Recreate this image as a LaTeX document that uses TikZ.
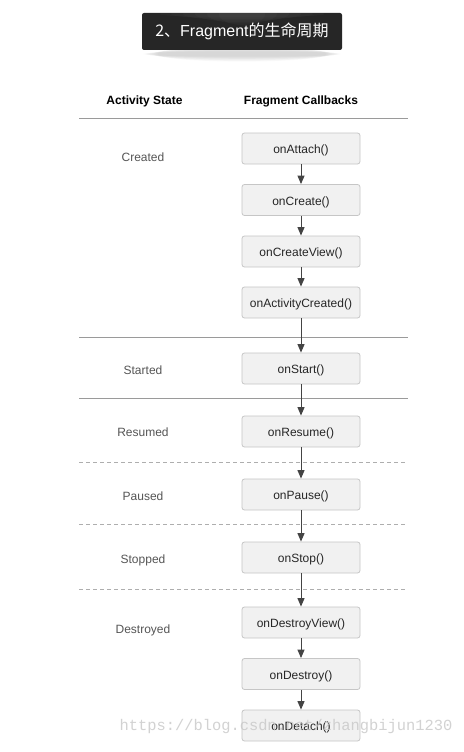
\documentclass[tikz,border=0pt]{standalone}
\usepackage{fontspec}
\setmainfont{Liberation Sans}
\newfontfamily\cjk{Noto Sans CJK SC}
\newfontfamily\wmfont{Liberation Mono}
\usetikzlibrary{arrows.meta,shadows}
\definecolor{boxfill}{HTML}{F1F1F1}
\definecolor{boxline}{HTML}{C6C6C6}
\definecolor{arrowc}{HTML}{444444}
\definecolor{sepc}{HTML}{9A9A9A}
\definecolor{statec}{HTML}{555555}
\definecolor{titlebg}{HTML}{262626}
\tikzset{
  cb/.style={draw=boxline, fill=boxfill, rounded corners=2.5pt, line width=0.8pt,
    minimum width=118pt, minimum height=31pt, inner sep=0pt, text height=10pt, text depth=0pt,
    font=\fontsize{12}{14}\selectfont, text=black!85},
  st/.style={font=\fontsize{12}{14}\selectfont, text=statec},
  hd/.style={font=\bfseries\fontsize{12}{14}\selectfont, text=black},
  flow/.style={draw=arrowc, line width=1pt, -{Triangle[width=7pt,length=8.5pt]}},
  solidsep/.style={draw=sepc, line width=0.7pt},
  dashsep/.style={draw=sepc!80, line width=0.7pt, dash pattern=on 4pt off 3pt}
}
\begin{document}
\begin{tikzpicture}[x=1pt,y=-1pt]
\useasboundingbox[fill=white] (0,0) rectangle (463,752);
% title banner shadow
\foreach \i in {1,...,8}{
  \fill[black, opacity=0.018] (242,54) ellipse ({101-2*\i} and {2+0.7*\i});
}
\node[fill=titlebg, rounded corners=2pt, minimum width=200pt, minimum height=37pt,
  inner sep=0pt, text=white, font=\fontsize{16}{18}\selectfont] (title) at (242,31.5)
  {{\cjk 2、}Fragment{\cjk 的生命周期}};
\foreach \i in {1,...,6}{
  \fill[white, opacity=0.025] (242,14) ellipse ({95-12*\i} and {2+1.5*\i});
}
% headers
\node[hd] (hA) at (144.5,101) {Activity State};
\node[hd] (hF) at (301,101) {Fragment Callbacks};
% separators
\coordinate (s0l) at (79,118); \coordinate (s0r) at (408,118);
\coordinate (s1l) at (79,337); \coordinate (s1r) at (408,337);
\coordinate (s2l) at (79,398); \coordinate (s2r) at (408,398);
\coordinate (s3l) at (79,462); \coordinate (s3r) at (405,462);
\coordinate (s4l) at (79,524); \coordinate (s4r) at (405,524);
\coordinate (s5l) at (79,589); \coordinate (s5r) at (405,589);
\draw[solidsep] (s0l) -- (s0r);
\draw[solidsep] (s1l) -- (s1r);
\draw[solidsep] (s2l) -- (s2r);
\draw[dashsep] (s3l) -- (s3r);
\draw[dashsep] (s4l) -- (s4r);
\draw[dashsep] (s5l) -- (s5r);
% states
\node[st] (created) at (143,157) {Created};
\node[st] (started) at (143,370) {Started};
\node[st] (resumed) at (143,432) {Resumed};
\node[st] (paused) at (143,496) {Paused};
\node[st] (stopped) at (143,560) {Stopped};
\node[st] (destroyed) at (143,630) {Destroyed};
% callbacks
\node[cb] (attach) at (301,148.5) {onAttach()};
\node[cb] (create) at (301,200) {onCreate()};
\node[cb] (cview) at (301,251.5) {onCreateView()};
\node[cb] (acreated) at (301,302.5) {onActivityCreated()};
\node[cb] (start) at (301,368.5) {onStart()};
\node[cb] (resume) at (301,431.5) {onResume()};
\node[cb] (pause) at (301,494.5) {onPause()};
\node[cb] (stop) at (301,557.5) {onStop()};
\node[cb] (dview) at (301,622.5) {onDestroyView()};
\node[cb] (destroy) at (301,674) {onDestroy()};
\node[cb] (detach) at (301,725.5) {onDetach()};
% arrows
\draw[flow] (attach) -- (create);
\draw[flow] (create) -- (cview);
\draw[flow] (cview) -- (acreated);
\draw[flow] (acreated) -- (start);
\draw[flow] (start) -- (resume);
\draw[flow] (resume) -- (pause);
\draw[flow] (pause) -- (stop);
\draw[flow] (stop) -- (dview);
\draw[flow] (dview) -- (destroy);
\draw[flow] (destroy) -- (detach);
% watermark
\node[font=\wmfont\fontsize{15.4}{17}\selectfont, text=black!22, opacity=0.8] (wm) at (286,727)
  {https://blog.csdn.net/zhangbijun1230};
\end{tikzpicture}
\end{document}
